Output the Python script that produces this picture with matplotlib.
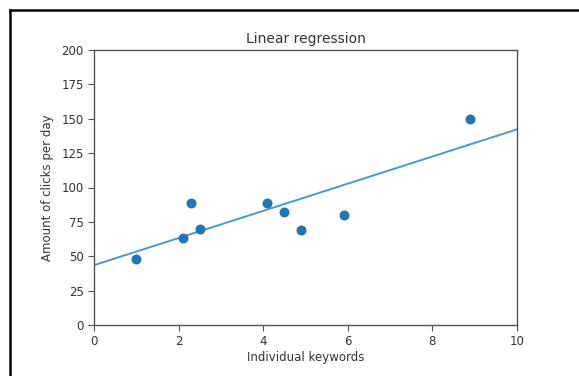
import matplotlib
matplotlib.use("Agg")
import matplotlib.pyplot as plt
from matplotlib.lines import Line2D

keywords = [1.0, 2.1, 2.3, 2.5, 4.1, 4.5, 4.9, 5.9, 8.9]
clicks = [48, 63, 89, 70, 89, 82, 69, 80, 150]
fit_x = [0, 10]
fit_y = [43.5, 142.3]
x_ticks = [0, 2, 4, 6, 8, 10]
y_ticks = [0, 25, 50, 75, 100, 125, 150, 175, 200]

W, H = 579, 376
fig = plt.figure(figsize=(W / 100, H / 100), dpi=100)
ax = fig.add_axes([94 / W, 1 - 325 / H, (517 - 94) / W, (325 - 50) / H])

ax.scatter(keywords, clicks, s=38, color="#1f77b4", zorder=3)
ax.plot(fit_x, fit_y, color="#4d97cc", lw=1.4)

ax.set_xlim(0, 10)
ax.set_ylim(0, 200)
ax.set_xticks(x_ticks)
ax.set_yticks(y_ticks)
txtc = "#333333"
ax.tick_params(labelsize=8.5, colors="#555555", labelcolor=txtc, length=4)
for s in ax.spines.values():
    s.set_color("#555555")
    s.set_linewidth(1.0)
ax.set_title("Linear regression", fontsize=10, color=txtc, pad=5)
ax.set_xlabel("Individual keywords", fontsize=8.5, color=txtc, labelpad=2)
ax.set_ylabel("Amount of clicks per day", fontsize=8.5, color=txtc, labelpad=5)

# screenshot frame
fig.add_artist(Line2D([9.5 / W, 1.0], [1 - 10 / H, 1 - 10 / H], color="black", lw=1.8, transform=fig.transFigure))
fig.add_artist(Line2D([9.5 / W, 9.5 / W], [0, 1 - 10 / H], color="black", lw=1.8, transform=fig.transFigure))

fig.savefig("out.png", dpi=100)
